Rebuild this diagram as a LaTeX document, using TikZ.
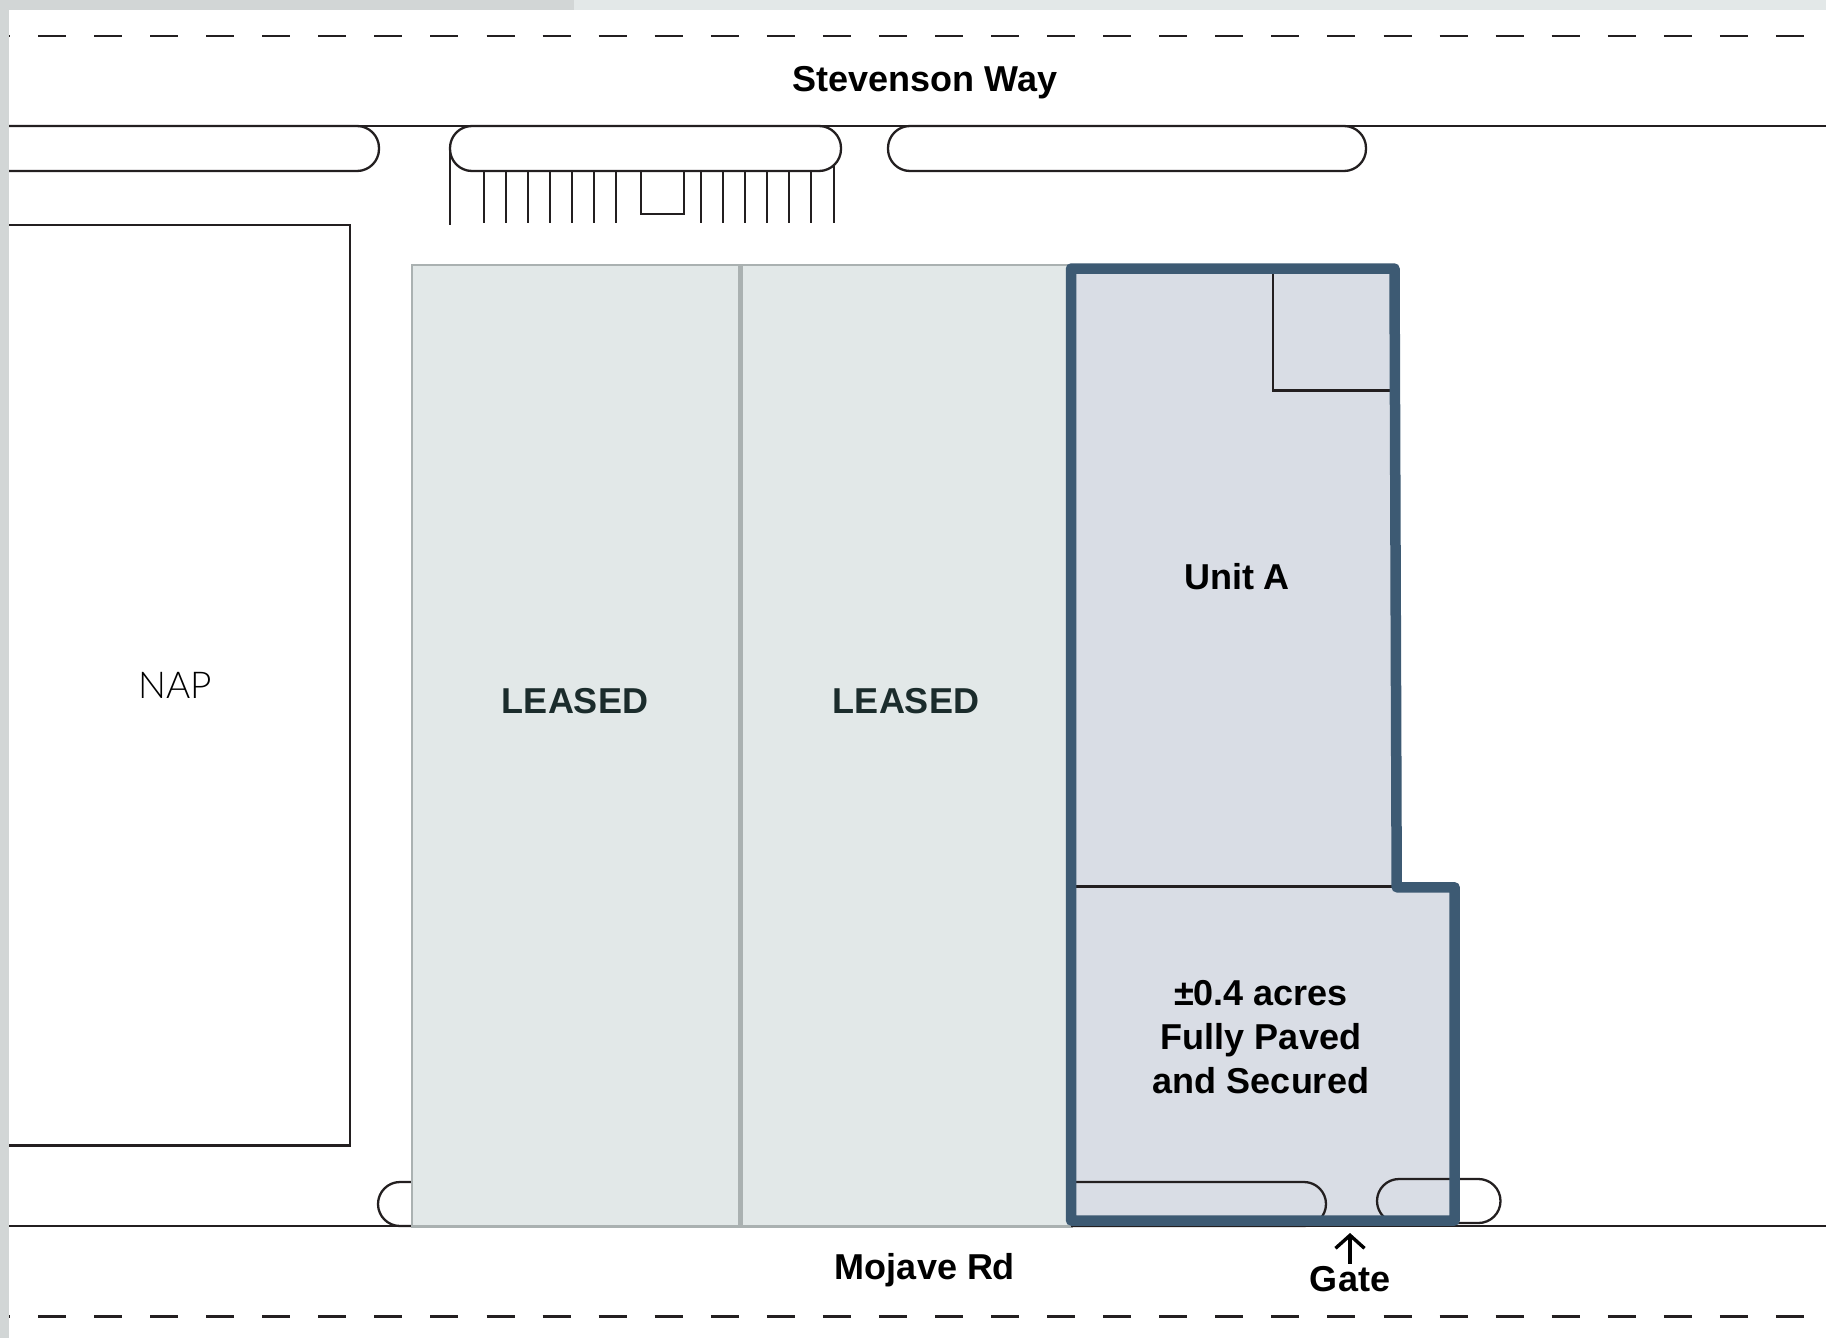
\documentclass[tikz,border=0pt]{standalone}
\usepackage{fontspec}
\setmainfont{Liberation Sans}
\newfontfamily\napfont{Lato Light}
\usetikzlibrary{arrows.meta}
\definecolor{barDark}{HTML}{D2D6D6}
\definecolor{barLight}{HTML}{E3E8E8}
\definecolor{leasedFill}{HTML}{E2E8E8}
\definecolor{leasedLine}{HTML}{AAB1B1}
\definecolor{unitFill}{HTML}{D9DDE5}
\definecolor{unitLine}{HTML}{3D5A73}
\definecolor{planLine}{HTML}{231F20}
\definecolor{leasedText}{HTML}{1B2C2C}
\tikzstyle{plan} = [draw=planLine, line width=2.3pt]
\tikzstyle{pill} = [plan, rounded corners=22pt]
\tikzstyle{lane} = [plan, dash pattern=on 28pt off 28.06pt, dash phase=27pt]
\tikzstyle{leased} = [draw=leasedLine, line width=2.6pt, fill=leasedFill]
\tikzstyle{unit} = [draw=unitLine, line width=10.5pt, line join=round]
\tikzstyle{label} = [inner sep=0pt, font=\fontsize{36}{44.3}\selectfont\bfseries, align=center]
\tikzstyle{arrow} = [line width=3.4pt, -{Straight Barb[length=13pt,width=29pt,line width=3.4pt]}]

\begin{document}
\begin{tikzpicture}[x=1pt, y=-1pt]
			\useasboundingbox (0,0) rectangle (1826,1338);
			\fill[white] (0,0) rectangle (1826,1338);
			
			% roads
			\draw[lane] (9,36) -- (1826,36);
			\draw[lane] (9,1316.5) -- (1826,1316.5);
			\draw[plan] (9,126) -- (1826,126);
			\draw[plan] (9,1226) -- (1826,1226);
			
			% pills
			\draw[pill] (-40,126) rectangle (379,171);
			\draw[pill] (450,126) rectangle (841,171);
			\draw[pill] (888,126) rectangle (1366,171);
			\draw[pill] (378,1182) rectangle (440,1226);
			
			% parking
			\draw[plan] (450,149) -- (450,225);
			\draw[plan] (484,171) -- (484,223) (506,171) -- (506,223) (528,171) -- (528,223) (550,171) -- (550,223);
			\draw[plan] (572,171) -- (572,223) (594,171) -- (594,223) (616,171) -- (616,223);
			\draw[plan] (701,171) -- (701,223) (723,171) -- (723,223) (745,171) -- (745,223) (767,171) -- (767,223);
			\draw[plan] (789,171) -- (789,223) (811,171) -- (811,223) (834,165) -- (834,223);
			\draw[plan] (641,171) rectangle (684,214);
			
			% lots
			\draw[plan] (-10,225) rectangle (350,1145.5);
			\draw[leased] (412,265) rectangle (739.5,1226.5);
			\draw[leased] (742,265) rectangle (1072,1226.5);
			
			% unit
			\fill[unitFill] (1071,268.5) -- (1394.5,268.5) -- (1396.7,887.3) -- (1454.7,887.3) -- (1454.7,1220.5) -- (1071,1220.5) -- cycle;
			\draw[plan] (1273,268.5) -- (1273,390.5) -- (1395,390.5);
			\draw[plan] (1071,886.5) -- (1396,886.5);
			\draw[pill] (1071,1226) -- (1326,1226) -- (1326,1182) -- (1071,1182);
			\draw[pill] (1377,1179) rectangle (1500.5,1223);
			\draw[unit] (1071,268.5) -- (1394.5,268.5) -- (1396.7,887.3) -- (1454.7,887.3) -- (1454.7,1220.5) -- (1071,1220.5) -- cycle;
			
			% page edge
			\fill[barLight] (0,0) rectangle (1826,10);
			\fill[barDark] (0,0) rectangle (574,10);
			\fill[barDark] (0,0) rectangle (9,1338);
			
			% labels
			\node[label] (stevenson) at (925,82.5) {Stevenson Way};
			\node[label] (mojave) at (925,1270.5) {Mojave Rd};
			\node[label, font=\fontsize{37}{44}\selectfont\napfont] (nap) at (175,685) {NAP};
			\node[label, text=leasedText] (leased1) at (575,701) {LEASED};
			\node[label, text=leasedText] (leased2) at (906,701) {LEASED};
			\node[label] (unita) at (1237,577) {Unit A};
			\node[label] (acres) at (1261,1037) {±0.4 acres\\Fully Paved\\and Secured};
			\node[label, anchor=base] (gate) at (1350,1291) {Gate};
			\coordinate (gatetip) at (1350,1233);
			
			\draw [arrow, shorten <=2pt] (gate.north) -- (gatetip);
			
		\end{tikzpicture}
\end{document}
